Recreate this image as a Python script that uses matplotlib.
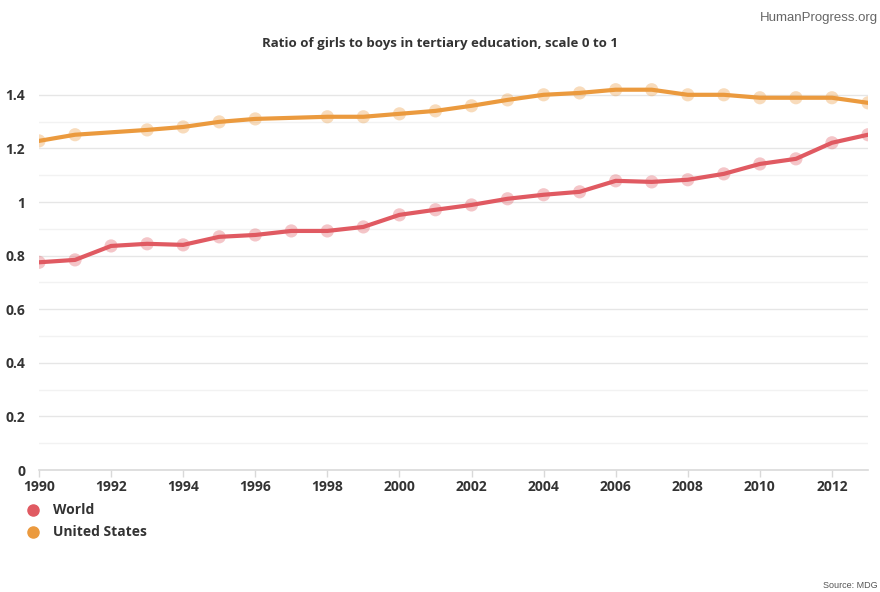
import matplotlib
matplotlib.use("Agg")
import matplotlib.pyplot as plt
from matplotlib.ticker import MultipleLocator, FuncFormatter

plt.rcParams['font.family'] = ['Open Sans', 'DejaVu Sans']

years_world = list(range(1990, 2014))
world = [0.775, 0.784, 0.836, 0.844, 0.840, 0.870, 0.877, 0.892, 0.892, 0.907,
         0.952, 0.971, 0.989, 1.012, 1.027, 1.038, 1.079, 1.075, 1.083, 1.105,
         1.142, 1.161, 1.221, 1.251]

years_us = [1990, 1991, 1993, 1994, 1995, 1996, 1998, 1999, 2000, 2001, 2002,
            2003, 2004, 2005, 2006, 2007, 2008, 2009, 2010, 2011, 2012, 2013]
us = [1.228, 1.251, 1.269, 1.280, 1.299, 1.310, 1.318, 1.318, 1.329, 1.340, 1.359,
      1.381, 1.400, 1.407, 1.419, 1.419, 1.400, 1.400, 1.389, 1.389, 1.389, 1.370]

title = "Ratio of girls to boys in tertiary education, scale 0 to 1"
series_names = ["World", "United States"]
colors = ["#e05a62", "#eb9a3e"]

W, H = 880, 592
fig = plt.figure(figsize=(W / 100, H / 100), dpi=100)
ax = fig.add_axes([39 / W, 1 - 470 / H, (868 - 39) / W, (470 - 68) / H])

for yrs, vals, c in [(years_world, world, colors[0]), (years_us, us, colors[1])]:
    ax.plot(yrs, vals, color=c, lw=3, zorder=3, solid_capstyle='round')
    ax.scatter(yrs, vals, s=90, color=c, alpha=0.35, edgecolors='none', zorder=4)

ax.set_xlim(1990, 2013)
ax.set_ylim(0, 1.5)
ax.xaxis.set_major_locator(MultipleLocator(2))
ax.yaxis.set_major_locator(MultipleLocator(0.2))
ax.yaxis.set_minor_locator(MultipleLocator(0.1))
ax.yaxis.set_major_formatter(FuncFormatter(lambda v, p: f"{v:g}"))

for k in range(1, 15):
    ax.axhline(k / 10, color='#e6e6e6' if k % 2 == 0 else '#f2f2f2',
               lw=1, zorder=1)

for s in ['top', 'right', 'left']:
    ax.spines[s].set_visible(False)
ax.spines['bottom'].set_color('#d9d9d9')
ax.spines['bottom'].set_linewidth(1.2)

ax.tick_params(axis='x', which='major', length=5, color='#d9d9d9', width=1,
               labelsize=10, labelcolor='#333333', pad=2)
ax.tick_params(axis='y', which='both', length=0, labelsize=10,
               labelcolor='#333333', pad=10)
for lab in ax.get_xticklabels() + ax.get_yticklabels():
    lab.set_fontweight('bold')

fig.text(440 / W, 1 - 43 / H, title, ha='center', va='center',
         fontsize=9.5, fontweight='bold', color='#333333')
fig.text(878 / W, 1 - 18 / H, "HumanProgress.org", ha='right', va='center',
         fontsize=9.5, color='#666666', family=['Liberation Sans', 'DejaVu Sans'])
fig.text(878 / W, 1 - 585 / H, "Source: MDG", ha='right', va='center',
         fontsize=6.5, color='#555555', family=['Liberation Sans', 'DejaVu Sans'])

for i, (name, c) in enumerate(zip(series_names, colors)):
    y = 1 - (510 + i * 21.5) / H
    fig.add_artist(plt.Line2D([33 / W], [y], marker='o', markersize=8,
                              color=c, lw=0, transform=fig.transFigure))
    fig.text(53 / W, y, name, ha='left', va='center', fontsize=10,
             fontweight='bold', color='#333333')

fig.savefig("out.png", dpi=100, facecolor='white')
